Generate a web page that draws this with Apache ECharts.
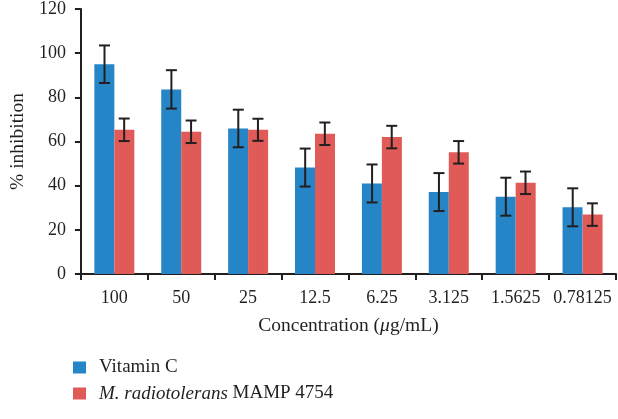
<!DOCTYPE html>
<html>
<head>
<meta charset="utf-8">
<script src="https://cdn.jsdelivr.net/npm/echarts@6/dist/echarts.min.js"></script>
<style>html,body{margin:0;padding:0;background:#fff}#c{width:618px;height:419px}</style>
</head>
<body>
<div id="c"></div>
<script>
var categories = ['100', '50', '25', '12.5', '6.25', '3.125', '1.5625', '0.78125'];
var vitaminC = [95, 83.6, 65.9, 48.2, 41, 37.1, 35, 30.2];
var vitaminCErr = [8.5, 8.7, 8.5, 8.6, 8.6, 8.6, 8.6, 8.6];
var mrad = [65.3, 64.4, 65.3, 63.5, 62, 55.1, 41.3, 26.9];
var mradErr = [5.1, 5.1, 5, 5.1, 5.1, 5.1, 5.1, 5.1];
var yTicks = [0, 20, 40, 60, 80, 100, 120];

var BLUE = '#2585c6', RED = '#e05a57', INK = '#231f20';
var FONT = '"Liberation Serif", "DejaVu Serif", serif';

function errData(vals, errs) {
  return vals.map(function (v, i) { return [i, v - errs[i], v + errs[i]]; });
}
function errSeries(name, vals, errs, offsetSign) {
  return {
    type: 'custom',
    name: name + '_err',
    data: errData(vals, errs),
    z: 10,
    silent: true,
    renderItem: function (params, api) {
      var idx = api.value(0);
      var lo = api.coord([idx, api.value(1)]);
      var hi = api.coord([idx, api.value(2)]);
      var bw = api.size([1, 0])[0];
      var barW = bw * 0.294;
      var x = lo[0] + offsetSign * barW / 2;
      var cap = 5.5;
      var st = { stroke: INK, lineWidth: 2 };
      return {
        type: 'group',
        children: [
          { type: 'line', shape: { x1: x, y1: lo[1], x2: x, y2: hi[1] }, style: st },
          { type: 'line', shape: { x1: x - cap, y1: lo[1], x2: x + cap, y2: lo[1] }, style: st },
          { type: 'line', shape: { x1: x - cap, y1: hi[1], x2: x + cap, y2: hi[1] }, style: st }
        ]
      };
    }
  };
}

var chart = echarts.init(document.getElementById('c'), null, { renderer: 'canvas' });
chart.setOption({
  animation: false,
  backgroundColor: '#fff',
  textStyle: { fontFamily: FONT },
  grid: { left: 72, right: 2, top: 7, bottom: 145, containLabel: false },
  legend: {
    orient: 'vertical',
    left: 68,
    top: 353,
    itemWidth: 13,
    itemHeight: 12,
    itemGap: 7,
    icon: 'rect',
    data: ['Vitamin C', 'M. radiotolerans MAMP 4754'],
    formatter: function (n) {
      if (n === 'Vitamin C') return 'Vitamin C';
      return '{i|M. radiotolerans} MAMP 4754';
    },
    textStyle: {
      fontFamily: FONT, fontSize: 19, color: INK, padding: [0, 0, 0, 8],
      rich: { i: { fontFamily: FONT, fontSize: 19, fontStyle: 'italic', color: INK } }
    }
  },
  xAxis: {
    type: 'category',
    data: categories,
    axisLine: { lineStyle: { color: INK, width: 2 } },
    axisTick: { show: true, length: 6, lineStyle: { color: INK, width: 2 } },
    axisLabel: { color: INK, fontSize: 18, margin: 15, fontFamily: FONT, interval: 0 },
    name: 'Concentration ({i|μ}g/mL)',
    nameLocation: 'middle',
    nameGap: 42,
    nameTextStyle: {
      color: INK, fontSize: 19.5, fontFamily: FONT,
      rich: { i: { fontStyle: 'italic', fontSize: 19.5, fontFamily: FONT, color: INK } }
    }
  },
  yAxis: {
    type: 'value',
    min: 0, max: 120, interval: 20,
    axisLine: { show: true, lineStyle: { color: INK, width: 2 } },
    axisTick: { show: true, length: 6, lineStyle: { color: INK, width: 2 } },
    splitLine: { show: false },
    axisLabel: {
      color: INK, fontSize: 18, margin: 15, fontFamily: FONT,
      formatter: function (v) { return yTicks.indexOf(v) >= 0 ? String(v) : ''; }
    },
    name: '% inhibition',
    nameLocation: 'middle',
    nameGap: 50,
    nameTextStyle: { color: INK, fontSize: 19.5, fontFamily: FONT }
  },
  series: [
    { type: 'bar', name: 'Vitamin C', data: vitaminC, barWidth: 20, barGap: '0%',
      itemStyle: { color: BLUE } },
    { type: 'bar', name: 'M. radiotolerans MAMP 4754', data: mrad, barWidth: 20, barGap: '0%',
      itemStyle: { color: RED } },
    errSeries('Vitamin C', vitaminC, vitaminCErr, -1),
    errSeries('M. radiotolerans MAMP 4754', mrad, mradErr, 1)
  ]
});
</script>
</body>
</html>
